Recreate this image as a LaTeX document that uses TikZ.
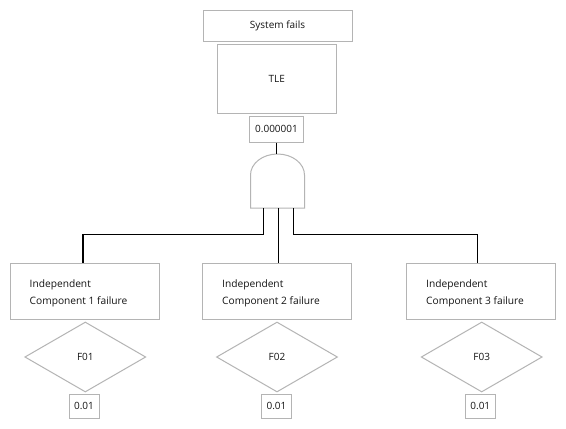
\documentclass[tikz,border=0pt]{standalone}
\usepackage{fontspec}
\setmainfont{Open Sans}
\usetikzlibrary{shapes.geometric}
\definecolor{boxgray}{RGB}{180,180,180}
\definecolor{txt}{RGB}{20,20,20}
\tikzset{
  box/.style={draw=boxgray, line width=1pt, rectangle, inner sep=0pt, text=txt, font=\fontsize{10}{12}\selectfont},
  dia/.style={draw=boxgray, line width=1pt, diamond, inner sep=0pt, minimum width=121pt, minimum height=70pt, text=txt, font=\fontsize{10}{12}\selectfont},
  lbl/.style={anchor=west, align=left, inner sep=0pt, text=txt, font=\fontsize{10.2}{17}\selectfont},
  conn/.style={draw=black, line width=1.1pt},
}
\begin{document}
\begin{tikzpicture}[x=1pt,y=-1pt]
\useasboundingbox[fill=white] (0,0) rectangle (566,429);
% top
\node[box, minimum width=149pt, minimum height=31pt] (sys) at (277.5,25.5) {System fails};
\node[box, minimum width=119pt, minimum height=69pt] (tle) at (276.8,78.8) {TLE};
\node[box, minimum width=54pt, minimum height=26pt] (ptle) at (276.5,129) {0.000001};
% gate
\coordinate (gtop) at (277.5,154);
\draw[draw=boxgray, line width=1pt] (250.5,208) -- (250.5,175) arc[start angle=180, end angle=360, x radius=27, y radius=21] -- (304.5,208) -- cycle;
\coordinate (g1) at (263.5,208);
\coordinate (g2) at (278.5,208);
\coordinate (g3) at (293.5,208);
\coordinate (j) at (0,234.5);
\draw[conn] (ptle.south) -- (ptle.south |- gtop);
% bottom boxes
\node[box, minimum width=149pt, minimum height=56pt] (b1) at (84.5,291) {};
\node[box, minimum width=149pt, minimum height=56pt] (b2) at (277,291) {};
\node[box, minimum width=149pt, minimum height=56pt] (b3) at (481,291) {};
\node[lbl] (t1) at ([xshift=20pt,yshift=-2.5pt]b1.west) {Independent\\Component 1 failure};
\node[lbl] (t2) at ([xshift=20pt,yshift=-2.5pt]b2.west) {Independent\\Component 2 failure};
\node[lbl] (t3) at ([xshift=20pt,yshift=-2.5pt]b3.west) {Independent\\Component 3 failure};
\draw[conn] (g1) -- (g1 |- j) -| ([xshift=-1.5pt]b1.north);
\draw[conn] (g2) -- (g2 |- b2.north);
\draw[conn] (g3) -- (g3 |- j) -| ([xshift=-3.5pt]b3.north);
% diamonds
\node[dia] (d1) at (85.3,357) {F01};
\node[dia] (d2) at (277,357) {F02};
\node[dia] (d3) at (481.7,357) {F03};
\node[box, minimum width=30pt, minimum height=24pt] (p1) at (84,406) {0.01};
\node[box, minimum width=30pt, minimum height=24pt] (p2) at (276.5,406) {0.01};
\node[box, minimum width=30pt, minimum height=24pt] (p3) at (480.3,406) {0.01};
\end{tikzpicture}
\end{document}
